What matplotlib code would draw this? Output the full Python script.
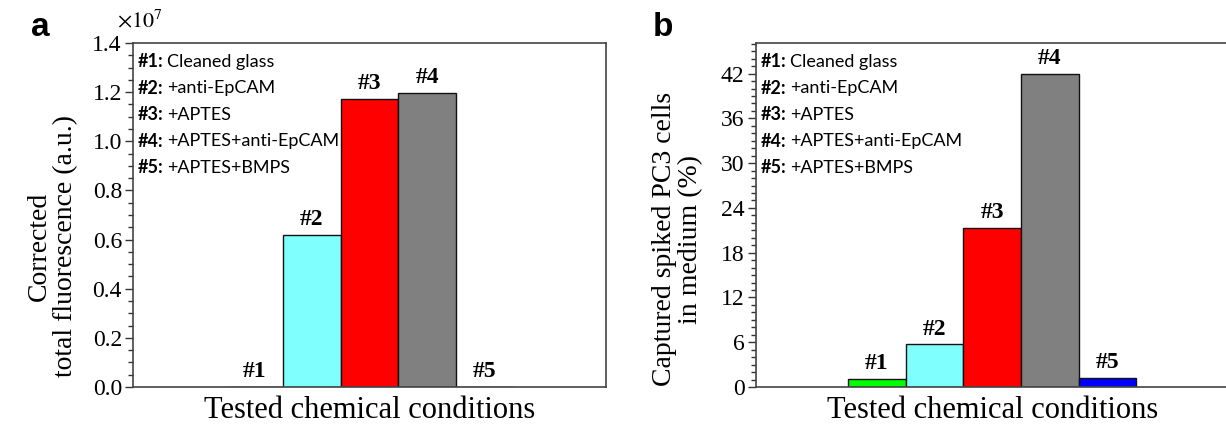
import numpy as np
import matplotlib
matplotlib.use('Agg')
import matplotlib.pyplot as plt
from matplotlib.ticker import MultipleLocator, FuncFormatter

plt.rcParams['font.family'] = 'Liberation Serif'
plt.rcParams['mathtext.fontset'] = 'stix'

# data
labels = ['#1', '#2', '#3', '#4', '#5']
conditions = ['Cleaned glass', '+anti-EpCAM', '+APTES', '+APTES+anti-EpCAM', '+APTES+BMPS']
fluorescence = [0.0, 0.62e7, 1.173e7, 1.198e7, 0.0]
captured = [1.07, 5.7, 21.3, 42.0, 1.2]
colors = ['#00ff00', '#80ffff', '#ff0000', '#808080', '#0000ff']

W, H = 1226, 430
fig = plt.figure(figsize=(W / 100, H / 100), dpi=100)

ax_a = fig.add_axes([133 / W, 43 / H, 473 / W, 344 / H])
ax_b = fig.add_axes([755.7 / W, 43 / H, 473 / W, 344 / H])

x = np.arange(1, 6)


def style_axes(ax):
    for s in ax.spines.values():
        s.set_color('#444444')
        s.set_linewidth(1.2)
    ax.set_xticks([])
    ax.set_xlim(-1.1, 7.1)
    ax.tick_params(axis='y', which='major', direction='out', length=6, width=1,
                   labelsize=17, pad=2, color='#333333')
    ax.tick_params(axis='y', which='minor', direction='out', length=3.5, width=1,
                   color='#333333')
    # legend-like text
    ys = [0.945, 0.868, 0.792, 0.715, 0.638]
    for lab, cond, yy in zip(labels, conditions, ys):
        ax.text(0.010, yy, lab + ':', transform=ax.transAxes, fontsize=13,
                fontweight='bold', family='Lato', va='center', ha='left')
        ax.text(0.072, yy, cond, transform=ax.transAxes, fontsize=13,
                family='Lato', va='center', ha='left')
    ax.text(0.5, -0.067, 'Tested chemical conditions', transform=ax.transAxes,
            fontsize=22, ha='center', va='center')


def draw_bars(ax, vals):
    bars = ax.bar(x, vals, width=1.0, color=colors, edgecolor='#111111', linewidth=1)
    for xi, v, lab in zip(x, vals, labels):
        ax.annotate(lab, (xi, v), xytext=(0, 3.5), textcoords='offset points',
                    ha='center', va='bottom', fontsize=17, fontweight='bold')
    return bars


# panel a
draw_bars(ax_a, fluorescence)
ax_a.set_ylim(0, 1.4e7)
ax_a.yaxis.set_major_locator(MultipleLocator(0.2e7))
ax_a.yaxis.set_minor_locator(MultipleLocator(0.05e7))
ax_a.yaxis.set_major_formatter(FuncFormatter(lambda v, p: '%.1f' % (v / 1e7)))
style_axes(ax_a)
ax_a.set_ylabel('Corrected\ntotal fluorescence (a.u.)', fontsize=20, linespacing=1.05)
ax_a.yaxis.set_label_coords(-0.116, 0.41)
ax_a.text(-0.034, 1.03, r'$\times10^7$', transform=ax_a.transAxes, fontsize=16,
          ha='left', va='bottom')

# panel b
draw_bars(ax_b, captured)
ax_b.set_ylim(0, 46.1)
ax_b.yaxis.set_major_locator(MultipleLocator(6))
ax_b.yaxis.set_minor_locator(MultipleLocator(1))
style_axes(ax_b)
ax_b.set_ylabel('Captured spiked PC3 cells\nin medium (%)', fontsize=20, linespacing=1.05)
ax_b.yaxis.set_label_coords(-0.111, 0.43)

fig.text(40 / W, 1 - 27 / H, 'a', fontsize=24, fontweight='bold',
         family='Liberation Sans', ha='center', va='center')
fig.text(663 / W, 1 - 27 / H, 'b', fontsize=24, fontweight='bold',
         family='Liberation Sans', ha='center', va='center')

fig.savefig('out.png', dpi=100)
